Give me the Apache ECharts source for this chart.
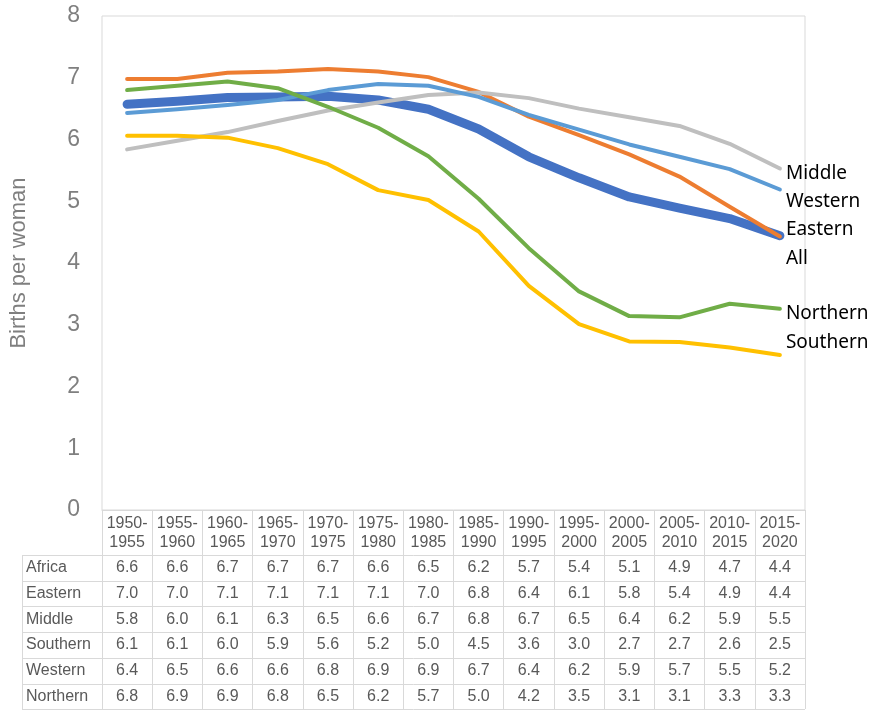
<!DOCTYPE html>
<html>
<head>
<meta charset="utf-8">
<title>Births per woman</title>
<script src="https://cdn.jsdelivr.net/npm/echarts@6/dist/echarts.min.js"></script>
<style>
  html, body { margin: 0; padding: 0; background: #fff; }
  #main { width: 877px; height: 710px; }
</style>
</head>
<body>
<div id="main"></div>
<script>
// periods on the x axis
var periods = ['1950-1955', '1955-1960', '1960-1965', '1965-1970', '1970-1975', '1975-1980', '1980-1985',
               '1985-1990', '1990-1995', '1995-2000', '2000-2005', '2005-2010', '2010-2015', '2015-2020'];

// births per woman (table shows them rounded)
var africa   = [6.57, 6.62, 6.68, 6.69, 6.70, 6.64, 6.49, 6.17, 5.72, 5.38, 5.07, 4.89, 4.72, 4.44];
var eastern  = [6.98, 6.98, 7.08, 7.10, 7.14, 7.10, 7.01, 6.77, 6.37, 6.07, 5.76, 5.40, 4.91, 4.43];
var middle   = [5.84, 5.98, 6.12, 6.30, 6.47, 6.60, 6.72, 6.76, 6.67, 6.50, 6.36, 6.22, 5.93, 5.53];
var southern = [6.06, 6.06, 6.03, 5.86, 5.60, 5.18, 5.02, 4.51, 3.63, 3.01, 2.73, 2.72, 2.63, 2.51];
var western  = [6.43, 6.49, 6.56, 6.64, 6.80, 6.90, 6.87, 6.69, 6.40, 6.16, 5.92, 5.72, 5.52, 5.19];
var northern = [6.80, 6.87, 6.94, 6.83, 6.53, 6.19, 5.73, 5.04, 4.24, 3.54, 3.14, 3.12, 3.34, 3.26];

var rowLabels = ['Africa', 'Eastern', 'Middle', 'Southern', 'Western', 'Northern'];
var endNames  = ['All', 'Eastern', 'Middle', 'Southern', 'Western', 'Northern'];
var rows      = [africa, eastern, middle, southern, western, northern];

var yMin = 0, yMax = 8, yStep = 1;

window.onload = function () {
    var chart = echarts.init(document.getElementById('main'), null, { renderer: 'canvas' });

    var colors  = ['#4472C4', '#ED7D31', '#BFBFBF', '#FFC000', '#5B9BD5', '#70AD47'];
    var widths  = [9, 4, 4, 4, 4, 4];
    // nudges so the end labels don't sit on top of each other
    var labelDy = [23, -7, 5, -12, 12, 5];

    var series = [];
    for (var i = 0; i < rows.length; i++) {
        series.push({
            name: endNames[i],
            type: 'line',
            data: rows[i],
            symbol: 'none',
            smooth: false,
            z: 2 + i,
            lineStyle: { color: colors[i], width: widths[i], cap: 'round', join: 'round' },
            itemStyle: { color: colors[i] },
            endLabel: {
                show: true,
                formatter: '{a}',
                distance: 6,
                offset: [0, labelDy[i]],
                color: '#000',
                fontSize: 19,
                fontFamily: 'Noto Sans'
            },
            emphasis: { disabled: true },
            animation: false
        });
    }

    var option = {
        backgroundColor: '#fff',
        animation: false,
        grid: {
            left: 101, right: 72, top: 16, bottom: 200,
            show: true, borderColor: '#d9d9d9', borderWidth: 1
        },
        xAxis: {
            type: 'category',
            data: periods,
            boundaryGap: true,
            axisLine: { lineStyle: { color: '#d9d9d9' } },
            axisTick: { show: true, length: 199, lineStyle: { color: '#d9d9d9' } },
            axisLabel: {
                interval: 0,
                margin: 4,
                fontSize: 16,
                lineHeight: 19,
                color: '#595959',
                fontFamily: 'Liberation Sans',
                formatter: function (v) { return v.replace('-', '-\n'); }
            },
            splitLine: { show: false }
        },
        yAxis: {
            type: 'value',
            min: yMin, max: yMax, interval: yStep,
            name: 'Births per woman',
            nameLocation: 'middle',
            nameGap: 72,
            nameTextStyle: { fontSize: 22, color: '#7f7f7f', fontFamily: 'Liberation Sans' },
            axisLine: { show: false },
            axisTick: { show: false },
            splitLine: { show: false },
            axisLabel: { fontSize: 23, color: '#7f7f7f', margin: 22, fontFamily: 'Liberation Sans' }
        },
        series: series
    };

    chart.setOption(option);

    // data table under the x axis
    var p0 = chart.convertToPixel({ xAxisIndex: 0 }, periods[0]);
    var p1 = chart.convertToPixel({ xAxisIndex: 0 }, periods[1]);
    var band = p1 - p0;
    var plotLeft = p0 - band / 2;
    var plotRight = plotLeft + band * periods.length;
    var base = chart.convertToPixel({ yAxisIndex: 0 }, 0);
    var tableTop = Math.round(base) + 45;
    var rowH = 25.7;
    var tableLeft = 22;

    var els = [];
    var lineStyle = { stroke: '#d9d9d9', lineWidth: 1 };
    for (var r = 0; r <= rows.length; r++) {
        var y = Math.round(tableTop + r * rowH) + 0.5;
        els.push({ type: 'line', silent: true, shape: { x1: tableLeft, y1: y, x2: plotRight, y2: y }, style: lineStyle });
    }
    els.push({ type: 'line', silent: true,
        shape: { x1: tableLeft + 0.5, y1: tableTop, x2: tableLeft + 0.5, y2: tableTop + rows.length * rowH },
        style: lineStyle });

    for (var r2 = 0; r2 < rows.length; r2++) {
        var cy = tableTop + (r2 + 0.5) * rowH;
        els.push({ type: 'text', silent: true, x: tableLeft + 4, y: cy,
            style: { text: rowLabels[r2], fill: '#595959', font: '16px "Liberation Sans"',
                     textAlign: 'left', textVerticalAlign: 'middle' } });
        for (var c = 0; c < periods.length; c++) {
            var cx = chart.convertToPixel({ xAxisIndex: 0 }, periods[c]);
            els.push({ type: 'text', silent: true, x: cx, y: cy,
                style: { text: rows[r2][c].toFixed(1), fill: '#595959', font: '16px "Liberation Sans"',
                         textAlign: 'center', textVerticalAlign: 'middle' } });
        }
    }

    chart.setOption({ graphic: els });
};
</script>
</body>
</html>
